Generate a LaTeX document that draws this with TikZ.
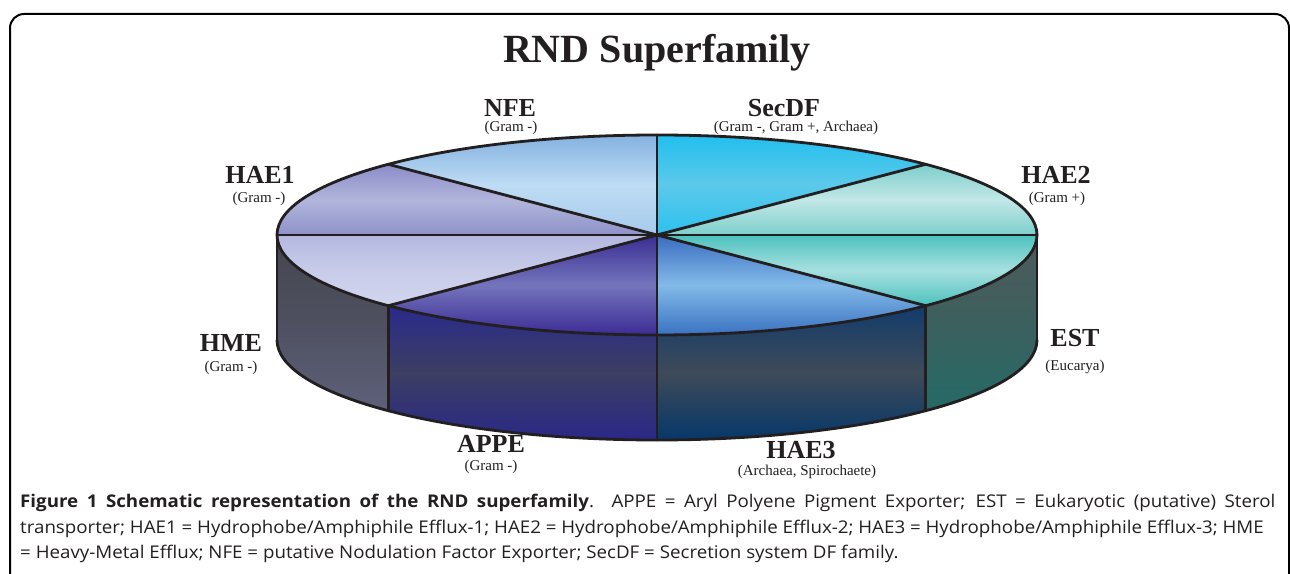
\documentclass[tikz,border=0pt]{standalone}
\usepackage{fontspec}
\setmainfont{Liberation Serif}
\newfontfamily\capfont{Open Sans}
\usetikzlibrary{calc}
\definecolor{ink}{HTML}{231F20}
% top slices
\definecolor{nfeA}{HTML}{84B2E0}\definecolor{nfeM}{HTML}{BEDCF4}\definecolor{nfeB}{HTML}{A6CAEC}
\definecolor{secA}{HTML}{22BFEE}\definecolor{secM}{HTML}{5CC9EA}\definecolor{secB}{HTML}{2CC1EE}
\definecolor{haeoA}{HTML}{8A8CC8}\definecolor{haeoM}{HTML}{B2B5DB}\definecolor{haeoB}{HTML}{8E92C9}
\definecolor{haetA}{HTML}{7CCFCB}\definecolor{haetM}{HTML}{C2E7E7}\definecolor{haetB}{HTML}{7CCFCB}
\definecolor{hmeA}{HTML}{B4B8E0}\definecolor{hmeM}{HTML}{C8CCE9}\definecolor{hmeB}{HTML}{D2D5EE}
\definecolor{estA}{HTML}{4CC2BE}\definecolor{estM}{HTML}{A8E0E0}\definecolor{estB}{HTML}{4CC2BE}
\definecolor{appA}{HTML}{3A2E92}\definecolor{appM}{HTML}{7474BC}\definecolor{appB}{HTML}{3C2C94}
\definecolor{haehA}{HTML}{3A6CC0}\definecolor{haehM}{HTML}{82BAE8}\definecolor{haehB}{HTML}{3A72C2}
% side panels
\definecolor{shmeA}{HTML}{44464E}\definecolor{shmeM}{HTML}{4E5060}\definecolor{shmeB}{HTML}{5E607A}
\definecolor{sappA}{HTML}{2A2A8C}\definecolor{sappM}{HTML}{3C3E62}\definecolor{sappB}{HTML}{2A2888}
\definecolor{shaeA}{HTML}{123C6C}\definecolor{shaeM}{HTML}{3E4A58}\definecolor{shaeB}{HTML}{06386A}
\definecolor{sestA}{HTML}{4E5A5A}\definecolor{sestM}{HTML}{3C605E}\definecolor{sestB}{HTML}{246A66}
\newcommand\topslice[5]{\shade[top color=#3, bottom color=#5, middle color=#4]
  (C) -- ($(C)+(#1:380pt and 100pt)$) arc[start angle=#1, end angle=#2, x radius=380pt, y radius=100pt] -- cycle;}
\newcommand\sideslice[5]{\shade[top color=#3, bottom color=#5, middle color=#4]
  ($(C)+(#1:380pt and 100pt)$) arc[start angle=#1, end angle=#2, x radius=380pt, y radius=100pt]
  -- ($(D)+(#2:380pt and 100pt)$) arc[start angle=#2, end angle=#1, x radius=380pt, y radius=100pt] -- cycle;}
\begin{document}
\begin{tikzpicture}[x=1pt,y=1pt,
  big/.style={font=\fontsize{26}{28}\selectfont\bfseries, text=ink, anchor=base, inner sep=0pt},
  small/.style={font=\fontsize{15}{17}\selectfont, text=ink, anchor=base, inner sep=0pt},
  outline/.style={draw=ink, line width=2.8pt, line join=round, line cap=round},
  captext/.style={font=\capfont\fontsize{17.5}{20}\selectfont, text=ink, anchor=base west, inner sep=0pt, xscale=1.07}]
\useasboundingbox (0,0) rectangle (1290,573);
\fill[white] (0,0) rectangle (1290,573);
\draw[line width=2pt, rounded corners=14pt] (10,-40) rectangle (1289,559);
\coordinate (C) at (657,338);
\coordinate (D) at (657,233);
% side panels
\sideslice{180}{225}{shmeA}{shmeM}{shmeB}
\sideslice{225}{270}{sappA}{sappM}{sappB}
\sideslice{270}{315}{shaeA}{shaeM}{shaeB}
\sideslice{315}{360}{sestA}{sestM}{sestB}
% top slices
\topslice{0}{45}{haetA}{haetM}{haetB}
\topslice{45}{90}{secA}{secM}{secB}
\topslice{90}{135}{nfeA}{nfeM}{nfeB}
\topslice{135}{180}{haeoA}{haeoM}{haeoB}
\topslice{180}{225}{hmeA}{hmeM}{hmeB}
\topslice{225}{270}{appA}{appM}{appB}
\topslice{270}{315}{haehA}{haehM}{haehB}
\topslice{315}{360}{estA}{estM}{estB}
% outlines
\draw[outline] (C) ellipse[x radius=380pt, y radius=100pt];
\foreach \a in {0,45,...,315} \draw[outline] (C) -- ($(C)+(\a:380pt and 100pt)$);
\foreach \a in {180,225,270,315,360} \draw[outline] ($(C)+(\a:380pt and 100pt)$) -- ($(D)+(\a:380pt and 100pt)$);
\draw[outline] ($(D)+(180:380pt and 100pt)$) arc[start angle=180, end angle=360, x radius=380pt, y radius=100pt];
% title
\node[font=\fontsize{40}{44}\selectfont\bfseries, text=ink, anchor=base, inner sep=0pt] (title) at (657,510) {RND Superfamily};
% labels
\node[big] (nfe) at (510,456) {NFE};
\node[small] (nfeg) at (511,441) {(Gram -)};
\node[big] (secdf) at (784,456) {SecDF};
\node[small] (secdfg) at (796,441) {(Gram -, Gram +, Archaea)};
\node[big] (hae1) at (260,389) {HAE1};
\node[small] (hae1g) at (259,370) {(Gram -)};
\node[big] (hae2) at (1056,389) {HAE2};
\node[small] (hae2g) at (1057,370) {(Gram +)};
\node[big] (hme) at (231,221) {HME};
\node[small] (hmeg) at (231,201) {(Gram -)};
\node[big] (est) at (1075,226) {EST};
\node[small] (estg) at (1075,202) {(Eucarya)};
\node[big] (appe) at (491,120) {APPE};
\node[small] (appeg) at (491,102) {(Gram -)};
\node[big] (hae3) at (801,114) {HAE3};
\node[small] (hae3g) at (807,97) {(Archaea, Spirochaete)};
% caption
\node[captext] (c1) at (20,66) {\makebox[1173pt][s]{\textbf{Figure 1 Schematic representation of the RND superfamily}. APPE = Aryl Polyene Pigment Exporter; EST = Eukaryotic (putative) Sterol}};
\node[captext] (c2) at (20,40) {transporter; HAE1 = Hydrophobe/Amphiphile Efflux-1; HAE2 = Hydrophobe/Amphiphile Efflux-2; HAE3 = Hydrophobe/Amphiphile Efflux-3; HME};
\node[captext] (c3) at (20,15) {= Heavy-Metal Efflux; NFE = putative Nodulation Factor Exporter; SecDF = Secretion system DF family.};
\end{tikzpicture}
\end{document}
